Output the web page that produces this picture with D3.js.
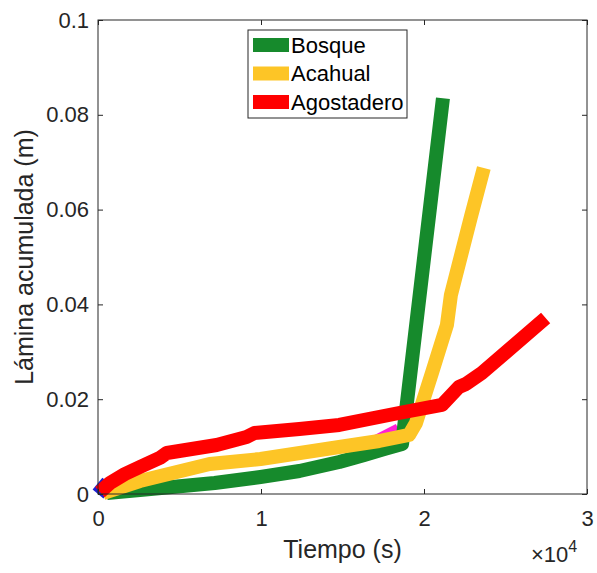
<!DOCTYPE html>
<html>
<head>
<meta charset="utf-8">
<script src="https://cdn.jsdelivr.net/npm/d3@7"></script>
<style>
	body { margin: 0; background: #fff; }
	svg { font-family: "Liberation Sans", Arial, sans-serif; }
</style>
</head>
<body>
<div id="chart"></div>
<script>
// tiempo (s) and lámina acumulada (m)
const bosqueT = [550, 2569, 7156, 9969, 12355, 14801, 16330, 17554, 18654, 21162];
const bosqueL = [0.0002, 0.00084, 0.00232, 0.00359, 0.00485, 0.00675, 0.00823, 0.00949, 0.01055, 0.0835];

const acahualT = [306, 2569, 6850, 9969, 14801, 17248, 19083, 19511, 20489, 21407, 21651, 22875, 23670];
const acahualL = [0.0002, 0.00274, 0.00633, 0.00738, 0.00992, 0.01118, 0.01245, 0.01498, 0.02553, 0.03565, 0.04198, 0.05844, 0.06878];

const agostaderoT = [122, 734, 1651, 2569, 3792, 4220, 7278, 9113, 9602, 12355, 14801, 18471, 21101, 22141, 22569, 23547, 27462];
const agostaderoL = [0.0004, 0.00232, 0.00422, 0.0057, 0.0076, 0.00865, 0.01034, 0.01203, 0.01287, 0.01371, 0.01456, 0.01709, 0.01878, 0.02257, 0.02321, 0.02553, 0.03713];

// series hidden underneath, only small bits show
const azulT = [0, 600];
const azulL = [0, 0.0025];
const magentaT = [16800, 18471];
const magentaL = [0.0105, 0.01347];

const xTicks = [0, 10000, 20000, 30000];
const xTickLabels = ['0', '1', '2', '3'];
const yTicks = [0, 0.02, 0.04, 0.06, 0.08, 0.1];
const yTickLabels = ['0', '0.02', '0.04', '0.06', '0.08', '0.1'];

const series = [
	{name: 'azul', t: azulT, l: azulL, color: '#1f1fd0', legend: false},
	{name: 'magenta', t: magentaT, l: magentaL, color: '#ff1fd6', legend: false},
	{name: 'Bosque', t: bosqueT, l: bosqueL, color: '#168a2c', legend: true},
	{name: 'Acahual', t: acahualT, l: acahualL, color: '#fdc526', legend: true},
	{name: 'Agostadero', t: agostaderoT, l: agostaderoL, color: '#ff0000', legend: true}
];

const width = 597, height = 573;
const plot = {left: 98, right: 587, top: 20, bottom: 494};
const axisColor = '#262626';
const lineWidth = 14;
const tickFont = 22;
const labelFont = 25;

const x = d3.scaleLinear().domain([0, 30000]).range([plot.left, plot.right]);
const y = d3.scaleLinear().domain([0, 0.1]).range([plot.bottom, plot.top]);

const svg = d3.select('#chart').append('svg')
	.attr('width', width)
	.attr('height', height);

// lines
const line = d3.line().x(d => x(d[0])).y(d => y(d[1]));
svg.append('g').selectAll('path')
	.data(series)
	.join('path')
	.attr('d', s => line(s.t.map((t, i) => [t, s.l[i]])))
	.attr('fill', 'none')
	.attr('stroke', s => s.color)
	.attr('stroke-width', lineWidth)
	.attr('stroke-linejoin', 'round')
	.attr('stroke-linecap', 'butt');

// axes box with inward ticks on all four sides
const tickLen = 5;
const styleAxis = g => {
	g.select('.domain').remove();
	g.selectAll('.tick line').attr('stroke', axisColor);
	g.selectAll('.tick text').attr('fill', axisColor).attr('font-size', tickFont);
};

svg.append('g')
	.attr('transform', `translate(0,${plot.bottom})`)
	.call(d3.axisBottom(x).tickValues(xTicks).tickFormat((d, i) => xTickLabels[i])
		.tickSizeInner(-tickLen).tickSizeOuter(0).tickPadding(16))
	.call(styleAxis);

svg.append('g')
	.attr('transform', `translate(0,${plot.top})`)
	.call(d3.axisTop(x).tickValues(xTicks).tickFormat('').tickSizeInner(-tickLen).tickSizeOuter(0))
	.call(styleAxis);

svg.append('g')
	.attr('transform', `translate(${plot.left},0)`)
	.call(d3.axisLeft(y).tickValues(yTicks).tickFormat((d, i) => yTickLabels[i])
		.tickSizeInner(-tickLen).tickSizeOuter(0).tickPadding(9))
	.call(styleAxis);

svg.append('g')
	.attr('transform', `translate(${plot.right},0)`)
	.call(d3.axisRight(y).tickValues(yTicks).tickFormat('').tickSizeInner(-tickLen).tickSizeOuter(0))
	.call(styleAxis);

svg.append('rect')
	.attr('x', plot.left).attr('y', plot.top)
	.attr('width', plot.right - plot.left).attr('height', plot.bottom - plot.top)
	.attr('fill', 'none').attr('stroke', axisColor).attr('stroke-width', 1);

// axis labels
svg.append('text')
	.attr('x', (plot.left + plot.right) / 2)
	.attr('y', 558)
	.attr('text-anchor', 'middle')
	.attr('font-size', labelFont)
	.attr('fill', axisColor)
	.text('Tiempo (s)');

svg.append('text')
	.attr('transform', `translate(33,${(plot.top + plot.bottom) / 2}) rotate(-90)`)
	.attr('text-anchor', 'middle')
	.attr('font-size', labelFont)
	.attr('fill', axisColor)
	.text('Lámina acumulada (m)');

const expo = svg.append('text')
	.attr('x', 531)
	.attr('y', 562)
	.attr('font-size', tickFont)
	.attr('fill', axisColor);
expo.append('tspan').text('×10');
expo.append('tspan').attr('dy', -10).attr('font-size', 16).text('4');

// legend
const legendItems = series.filter(s => s.legend);
const legend = svg.append('g').attr('transform', 'translate(248,30)');
legend.append('rect')
	.attr('width', 159).attr('height', 88)
	.attr('fill', '#fff').attr('stroke', axisColor).attr('stroke-width', 1);
const rows = legend.selectAll('g.row')
	.data(legendItems)
	.join('g')
	.attr('class', 'row')
	.attr('transform', (d, i) => `translate(0,${15 + i * 28.5})`);
rows.append('line')
	.attr('x1', 5).attr('x2', 41)
	.attr('stroke', d => d.color)
	.attr('stroke-width', lineWidth);
rows.append('text')
	.attr('x', 43)
	.attr('dy', '0.36em')
	.attr('font-size', 22)
	.attr('fill', '#000')
	.text(d => d.name);
</script>
</body>
</html>
